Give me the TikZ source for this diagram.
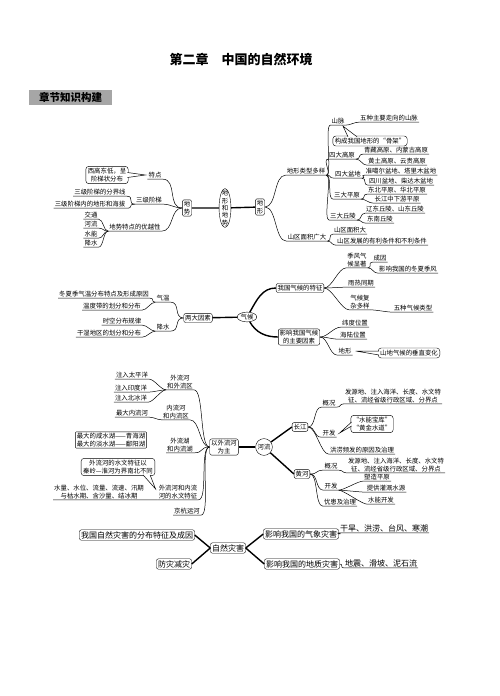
\documentclass[tikz,border=0pt]{standalone}
\usepackage{fontspec}
\setmainfont{Noto Sans CJK SC}
\usetikzlibrary{shapes.geometric}
\begin{document}
\begin{tikzpicture}[x=1pt,y=-1pt,
  txt/.style={font=\fontsize{6.4}{7.4}\selectfont,inner sep=1pt,align=center},
  big/.style={font=\fontsize{8}{9.5}\selectfont},
  bx/.style={txt,draw,inner sep=1.5pt},
  rbx/.style={bx,rounded corners=2pt},
  call/.style={txt,draw,rounded corners=3pt,inner sep=2pt,fill=white},
  br/.style={line width=0.5pt},
  trunk/.style={line width=1.4pt},
  rc/.style={out=0,in=180,distance=8pt},
  lc/.style={out=180,in=0,distance=8pt}]
\useasboundingbox (0,0) rectangle (500,696);
\node[font=\fontsize{13}{15}\selectfont\bfseries] (title) at (241,60) {第二章\quad 中国的自然环境};
\node[fill=black!35,font=\fontsize{10.5}{12}\selectfont\bfseries,inner sep=2pt,minimum width=83pt,minimum height=13pt] (head) at (70.5,97.5) {章节知识构建};

\node[txt,draw,ellipse,inner xsep=1pt,inner ysep=-4pt] (dxds) at (225,208) {地\\形\\和\\地\\势};
\node[bx,rounded corners=1.5pt] (dishi) at (187,208) {地\\势};
\node[bx,rounded corners=1.5pt] (dixing) at (260,207) {地\\形};
\draw[trunk] (dishi) -- (dxds) -- (dixing);
\node[txt] (tedian) at (155,175) {特点};
\node[call] (jietizhuang) at (107,175) {西高东低，呈\\阶梯状分布};
\draw[br,fill=white] ([xshift=-1pt,yshift=2.5pt]jietizhuang.east) -- ([xshift=-2pt]tedian.west) -- ([xshift=-1pt,yshift=-2.5pt]jietizhuang.east);
\node[txt] (jieti) at (149,200) {三级阶梯};
\node[txt] (fenjie) at (100,192) {三级阶梯的分界线};
\node[txt] (neibu) at (90,204) {三级阶梯内的地形和海拔};
\node[txt] (youyue) at (135,227) {地势特点的优越性};
\node[txt] (jiaotong) at (91,215) {交通};
\node[txt] (heliuA) at (91,224) {河流};
\node[txt] (shuinengA) at (91,234) {水能};
\node[txt] (jiangshuiA) at (91,243) {降水};
\draw[br] (dishi.west) to[lc,distance=15pt] (tedian.south east) -- (tedian.south west);
\draw[br] (dishi.west) to[lc] (jieti.south east) -- (jieti.south west);
\draw[br] (jieti.south west) to[lc] (fenjie.south east) -- (fenjie.south west);
\draw[br] (jieti.south west) to[lc] (neibu.south east) -- (neibu.south west);
\draw[br] (dishi.west) to[lc,distance=12pt] (youyue.south east) -- (youyue.south west);
\foreach \n in {jiaotong,heliuA,shuinengA,jiangshuiA}
  \draw[br] (youyue.south west) to[lc,distance=5pt] (\n.south east) -- (\n.south west);

\node[txt] (leixing) at (306,171) {地形类型多样};
\node[txt] (shanqu) at (307,237) {山区面积广大};
\draw[br] (dixing.east) to[rc,distance=12pt] (leixing.south west) -- (leixing.south east);
\draw[br] (dixing.east) to[rc,distance=12pt] (shanqu.south west) -- (shanqu.south east);
\node[txt] (shanmai) at (338,121) {山脉};
\node[txt] (wuzhong) at (389,118) {五种主要走向的山脉};
\node[call] (gujia) at (370,141) {构成我国地形的“骨架”};
\draw[br,fill=white] ([xshift=-22pt,yshift=-1pt]gujia.north) -- ([xshift=5pt,yshift=-1pt]shanmai.south) -- ([xshift=-13pt,yshift=-1pt]gujia.north);
\node[txt] (gaoyuan) at (342,155) {四大高原};
\node[txt] (gyA) at (396,150) {青藏高原、内蒙古高原};
\node[txt] (gyB) at (397,161) {黄土高原、云贵高原};
\node[txt] (pendi) at (348,174) {四大盆地};
\node[txt] (pdA) at (401,171) {准噶尔盆地、塔里木盆地};
\node[txt] (pdB) at (401,181) {四川盆地、柴达木盆地};
\node[txt] (pingyuan) at (347,195) {三大平原};
\node[txt] (pyA) at (397,190) {东北平原、华北平原};
\node[txt] (pyB) at (397,199) {长江中下游平原};
\node[txt] (qiuling) at (343,216) {三大丘陵};
\node[txt] (qlA) at (395,209) {辽东丘陵、山东丘陵};
\node[txt] (qlB) at (380,219) {东南丘陵};
\node[txt] (sqA) at (350,230) {山区面积大};
\node[txt] (sqB) at (382,241) {山区发展的有利条件和不利条件};
\foreach \n in {shanmai,gaoyuan,pendi,pingyuan,qiuling}
  \draw[br] (leixing.south east) to[rc,distance=6pt] (\n.south west) -- (\n.south east);
\foreach \p/\c in {shanmai/wuzhong,gaoyuan/gyA,gaoyuan/gyB,pendi/pdA,pendi/pdB,pingyuan/pyA,pingyuan/pyB,qiuling/qlA,qiuling/qlB,shanqu/sqA,shanqu/sqB}
  \draw[br] (\p.south east) to[rc,distance=5pt] (\c.south west) -- (\c.south east);

\node[rbx] (liangda) at (198,318) {两大因素};
\node[txt,draw,ellipse,inner sep=0.5pt] (qihou) at (247,317) {气候};
\node[rbx] (tezheng) at (300,288) {我国气候的特征};
\node[rbx] (yinsu) at (299,337) {影响我国气候\\的主要因素};
\draw[trunk] (liangda) -- (qihou);
\draw[trunk] (qihou) to[out=60,in=180] (tezheng.west);
\draw[trunk] (qihou) to[out=-60,in=180] (yinsu.west);
\node[txt] (qiwen) at (163,298) {气温};
\node[txt] (jiangshui) at (163,327) {降水};
\node[txt] (dongxiaA) at (104,294) {冬夏季气温分布特点及形成原因};
\node[txt] (wendu) at (112,306) {温度带的划分和分布};
\node[txt] (shikong) at (122,321) {时空分布规律};
\node[txt] (ganshi) at (109,333) {干湿地区的划分和分布};
\draw[br] (liangda.west) to[lc,distance=10pt] (qiwen.south east) -- (qiwen.south west);
\draw[br] (liangda.west) to[lc,distance=10pt] (jiangshui.south east) -- (jiangshui.south west);
\foreach \p/\c in {qiwen/dongxiaA,qiwen/wendu,jiangshui/shikong,jiangshui/ganshi}
  \draw[br] (\p.south west) to[lc,distance=5pt] (\c.south east) -- (\c.south west);
\node[txt] (jifeng) at (357,260) {季风气\\候显著};
\node[txt] (chengyin) at (380,258) {成因};
\node[txt] (dongxiaB) at (408,269) {影响我国的冬夏季风};
\node[txt] (yure) at (361,283) {雨热同期};
\node[txt] (fuza) at (360,302) {气候复\\杂多样};
\node[txt] (leixingB) at (413,308) {五种气候类型};
\node[txt] (weidu) at (355,323) {纬度位置};
\node[txt] (hailu) at (353,335) {海陆位置};
\node[txt] (dixingB) at (345,351) {地形};
\node[call] (chuizhi) at (409,353) {山地气候的垂直变化};
\draw[br,fill=white] ([xshift=1pt,yshift=2pt]chuizhi.west) -- ([xshift=3pt]dixingB.east) -- ([xshift=1pt,yshift=-2pt]chuizhi.west);
\foreach \n in {jifeng,yure,fuza}
  \draw[br] (tezheng.east) to[rc,distance=8pt] (\n.south west) -- (\n.south east);
\foreach \n in {weidu,hailu,dixingB}
  \draw[br] (yinsu.east) to[rc,distance=8pt] (\n.south west) -- (\n.south east);
\foreach \p/\c in {jifeng/chengyin,jifeng/dongxiaB,fuza/leixingB}
  \draw[br] (\p.south east) to[rc,distance=5pt] (\c.south west) -- (\c.south east);

\node[rbx] (waihe) at (224,447) {以外流河\\为主};
\node[txt,draw,circle,inner sep=1pt] (heliu) at (264,447) {河流};
\draw[trunk] (waihe) -- (heliu);
\node[txt] (wailiu) at (180,382) {外流河\\和外流区};
\node[txt] (taiping) at (132,375) {注入太平洋};
\node[txt] (yindu) at (131,388) {注入印度洋};
\node[txt] (beibing) at (131,398) {注入北冰洋};
\node[txt] (neiliu) at (176,412) {内流河\\和内流区};
\node[txt] (zuida) at (132,413) {最大内流河};
\node[txt] (hupo) at (180,445) {外流湖\\和内流湖};
\node[bx,rounded corners=1pt] (hu) at (111,440) {最大的咸水湖——青海湖\\最大的淡水湖——鄱阳湖};
\node[txt] (shuiwen) at (178,492) {外流河和内流\\河的水文特征};
\node[call] (qinling) at (118,467) {外流河的水文特征以\\秦岭—淮河为界南北不同};
\draw[br,fill=white] ([xshift=-12pt,yshift=1pt]qinling.south east) -- ([xshift=-2pt,yshift=3pt]shuiwen.west) -- ([xshift=-5pt,yshift=1pt]qinling.south east);
\node[txt] (shuiliang) at (99,492) {水量、水位、流量、流速、汛期\\与枯水期、含沙量、结冰期};
\node[txt] (jinghang) at (187,511) {京杭运河};
\foreach \n in {wailiu,neiliu,hupo,shuiwen,jinghang}
  \draw[br] (waihe.west) to[lc,distance=10pt] (\n.south east) -- (\n.south west);
\foreach \p/\c in {wailiu/taiping,wailiu/yindu,wailiu/beibing,neiliu/zuida,shuiwen/shuiliang}
  \draw[br] (\p.south west) to[lc,distance=5pt] (\c.south east) -- (\c.south west);
\node[rbx] (changjiang) at (300,427) {长江};
\node[rbx] (huanghe) at (302,474) {黄河};
\draw[trunk] (heliu) -- (changjiang.west);
\draw[trunk] (heliu) -- (huanghe.west);
\node[txt] (cjgk) at (329,403) {概况};
\node[txt] (cjms) at (393,396) {发源地、注入海洋、长度、水文特\\征、流经省级行政区域、分界点};
\node[txt] (cjkf) at (329,433) {开发};
\node[call] (baoku) at (372,424) {“水能宝库”\\“黄金水道”};
\draw[br,fill=white] ([xshift=1pt,yshift=2pt]baoku.west) -- ([xshift=3pt]cjkf.east) -- ([xshift=1pt,yshift=-2pt]baoku.west);
\node[txt] (honglao) at (362,450) {洪涝频发的原因及治理};
\node[txt] (hhgk) at (331,466) {概况};
\node[txt] (hhms) at (396,465) {发源地、注入海洋、长度、水文特\\征、流经省级行政区域、分界点};
\node[txt] (hhkf) at (331,486) {开发};
\node[txt] (suzao) at (377,477) {塑造平原};
\node[txt] (tigong) at (386,488) {提供灌溉水源};
\node[txt] (shuinengB) at (381,500) {水能开发};
\node[txt] (youhuan) at (340,502) {忧患及治理};
\foreach \n in {cjgk,cjkf,honglao}
  \draw[br] (changjiang.east) to[rc,distance=8pt] (\n.south west) -- (\n.south east);
\foreach \n in {hhgk,hhkf,youhuan}
  \draw[br] (huanghe.east) to[rc,distance=8pt] (\n.south west) -- (\n.south east);
\foreach \p/\c in {cjgk/cjms,hhgk/hhms,hhkf/suzao,hhkf/tigong,hhkf/shuinengB}
  \draw[br] (\p.south east) to[rc,distance=5pt] (\c.south west) -- (\c.south east);

\node[rbx,big] (zaihai) at (228,548) {自然灾害};
\node[rbx,big] (fenbu) at (137,535) {我国自然灾害的分布特征及成因};
\node[rbx,big] (fangzai) at (174,564) {防灾减灾};
\node[rbx,big] (qixiang) at (301,534) {影响我国的气象灾害};
\node[rbx,big] (dizhi) at (302,564) {影响我国的地质灾害};
\node[txt,big] (ganhan) at (384,528) {干旱、洪涝、台风、寒潮};
\node[txt,big] (dizhen) at (381,563) {地震、滑坡、泥石流};
\draw[trunk] (zaihai.west) -- (fenbu.east);
\draw[trunk] (zaihai.west) -- (fangzai.east);
\draw[trunk] (zaihai.east) -- (qixiang.west);
\draw[trunk] (zaihai.east) -- (dizhi.west);
\draw[br] (qixiang.east) to[rc,distance=4pt] (ganhan.south west) -- (ganhan.south east);
\draw[br] (dizhi.east) to[rc,distance=4pt] (dizhen.south west) -- (dizhen.south east);
\end{tikzpicture}
\end{document}
